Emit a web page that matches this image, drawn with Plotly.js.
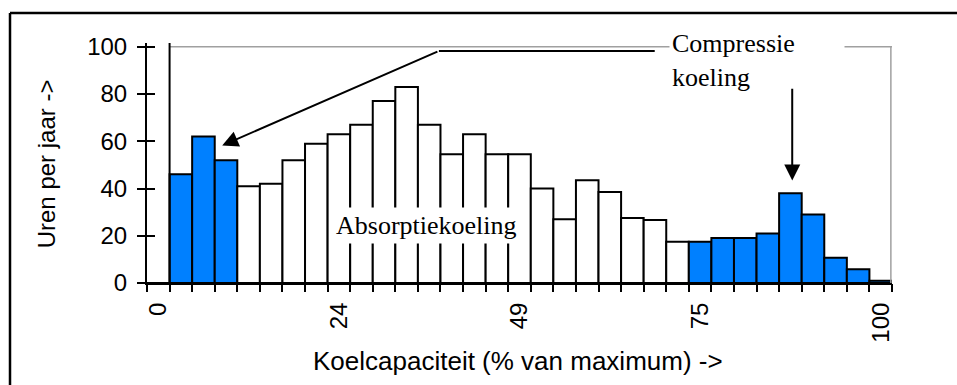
<!DOCTYPE html>
<html><head><meta charset="utf-8">
<script src="https://cdn.plot.ly/plotly-3.0.1.min.js"></script>
<style>html,body{margin:0;padding:0;background:#fff}#chart{width:957px;height:385px}</style>
</head><body><div id="chart"></div>
<script>
// capacity classes (index of the class, 0 .. 32)
const categories = [0,1,2,3,4,5,6,7,8,9,10,11,12,13,14,15,16,17,18,19,20,21,22,23,24,25,26,27,28,29,30,31,32];
// hours per year in each class
const hours = [0,46,62,52,41,42,52,59,63,67,77,83,67,54.5,63,54.5,54.5,40,27,43.5,38.5,27.5,26.7,17.5,17.5,19,19,21,38,29,10.7,5.8,1];
// which cooling covers the class: C = compressie, A = absorptie
const cooling = ['A','C','C','C','A','A','A','A','A','A','A','A','A','A','A','A','A','A','A','A','A','A','A','A','C','C','C','C','C','C','C','C','C'];
const tickPositions = [0,8,16,24,32];
const tickLabels = ['0','24','49','75','100'];
const yTicks = [0,20,40,60,80,100];
const yLabels = ['0','20','40','60','80','100'];

const colorFor = {C:'#0080FF', A:'#FFFFFF'};
const W = 957, H = 385, L = 147, R = 65, T = 43, B = 102;
const pw = W - L - R, ph = H - T - B;
const px = v => (v - L) / pw;
const py = v => (H - B - v) / ph;
const boundaries = categories.map(c => c - 0.5).concat([categories[categories.length-1] + 0.5]);
const sans = 'Liberation Sans, Arial, sans-serif';
const serif = 'Liberation Serif, Times New Roman, serif';

const traces = [
  {type:'bar', x:categories, y:hours, width:1,
   marker:{color:cooling.map(c => colorFor[c]), line:{color:'#000', width:2}},
   hoverinfo:'x+y', xaxis:'x', yaxis:'y'},
  {type:'scatter', mode:'markers', x:categories, y:hours, marker:{opacity:0},
   hoverinfo:'skip', xaxis:'x2', yaxis:'y2', showlegend:false}
];

const layout = {
  width:W, height:H, margin:{l:L, r:R, t:T, b:B},
  paper_bgcolor:'#fff', plot_bgcolor:'#fff', showlegend:false, bargap:0,
  font:{family:sans, color:'#000'},
  xaxis:{range:[-0.5,32.5], tickmode:'array', tickvals:tickPositions, ticktext:tickLabels,
    tickangle:-90, ticks:'outside', ticklen:8, tickcolor:'rgba(0,0,0,0)',
    showline:true, linecolor:'#000', linewidth:2, showgrid:false, zeroline:false,
    tickfont:{family:sans, size:24, color:'#000'}, fixedrange:true},
  xaxis2:{overlaying:'x', anchor:'y2', range:[-0.5,32.5], tickmode:'array', tickvals:boundaries,
    ticks:'outside', ticklen:8, tickwidth:2, tickcolor:'#000', showticklabels:false,
    showline:false, showgrid:false, zeroline:false, fixedrange:true},
  yaxis:{range:[0,101.6], tickmode:'array', tickvals:yTicks, ticktext:yLabels,
    ticks:'outside', ticklen:8, tickwidth:2, tickcolor:'#000',
    showline:true, linecolor:'#000', linewidth:2, showgrid:false, zeroline:false,
    tickfont:{family:sans, size:24, color:'#000'}, ticklabelstandoff:5, fixedrange:true},
  yaxis2:{overlaying:'y', anchor:'x2', side:'left', range:[0,101.6], tickmode:'array', tickvals:yTicks,
    ticks:'inside', ticklen:8, tickwidth:2, tickcolor:'#000', showticklabels:false,
    showline:false, showgrid:false, zeroline:false, fixedrange:true},
  shapes:[
    {type:'line', xref:'x', yref:'y', x0:0.5, x1:32.5, y0:100, y1:100, line:{color:'#a0a0a0', width:1.5}},
    {type:'line', xref:'x', yref:'y', x0:32.45, x1:32.45, y0:0, y1:100, line:{color:'#a0a0a0', width:1.5}},
    {type:'line', xref:'x', yref:'y', x0:0.5, x1:0.5, y0:0, y1:101.6, line:{color:'#000', width:2}},
    {type:'line', xref:'x', yref:'y', x0:12.43, x1:21.99, y0:98.2, y1:98.2, line:{color:'#000', width:2}},
    {type:'line', xref:'paper', yref:'paper', x0:px(10), x1:px(957), y0:py(13), y1:py(13), line:{color:'#000', width:2.5}},
    {type:'line', xref:'paper', yref:'paper', x0:px(10), x1:px(10), y0:py(13), y1:py(385), line:{color:'#000', width:2.5}}
  ],
  annotations:[
    {text:'Absorptiekoeling', xref:'x', yref:'y', x:11.86, y:24.4, showarrow:false,
     bgcolor:'#fff', borderpad:3, font:{family:serif, size:26, color:'#000'}},
    {text:'Compressie<br>koeling', xref:'paper', yref:'paper', x:px(669), y:py(26), xanchor:'left', yanchor:'top',
     align:'left', width:170, showarrow:false, bgcolor:'#fff', borderpad:2,
     font:{family:serif, size:26, color:'#000'}},
    {text:'', xref:'x', yref:'y', x:2.83, y:58.2, axref:'x', ayref:'y', ax:12.43, ay:98.2,
     showarrow:true, arrowhead:2, arrowsize:1.6, arrowwidth:2, arrowcolor:'#000'},
    {text:'', xref:'x', yref:'y', x:28.08, y:43.4, axref:'x', ayref:'y', ax:28.08, ay:82.9,
     showarrow:true, arrowhead:2, arrowsize:1.6, arrowwidth:2, arrowcolor:'#000'},
    {text:'Uren per jaar ->', xref:'paper', yref:'paper', x:px(46), y:py(164.3), textangle:-90,
     xanchor:'center', yanchor:'middle', showarrow:false, font:{family:sans, size:24, color:'#000'}},
    {text:'Koelcapaciteit (% van maximum) ->', xref:'paper', yref:'paper', x:px(517.5), y:py(361),
     xanchor:'center', yanchor:'middle', showarrow:false, font:{family:sans, size:26, color:'#000'}}
  ]
};

Plotly.newPlot('chart', traces, layout, {displayModeBar:false, staticPlot:true});
</script>
</body></html>
